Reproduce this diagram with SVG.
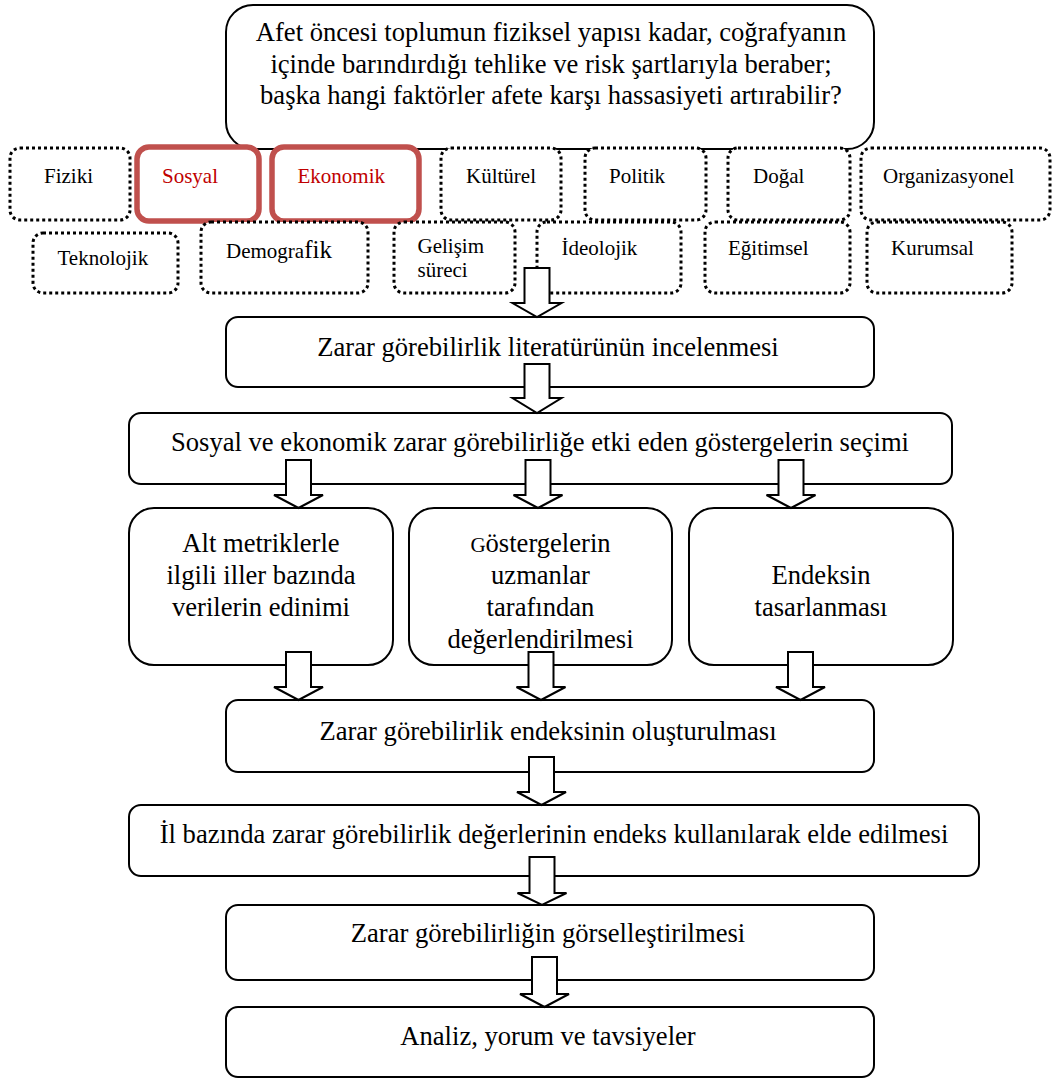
<svg xmlns="http://www.w3.org/2000/svg" width="1054" height="1082" viewBox="0 0 1054 1082">
  <style>
    text { font-family: "Liberation Serif", "Times New Roman", serif; fill: #000; }
    .flow { font-size: 26.6px; text-anchor: middle; }
    .factor { font-size: 21px; }
    .red { fill: #c00000; }
    .box { fill: #fff; stroke: #000; stroke-width: 2; }
    .dotted { fill: #fff; stroke: #000; stroke-width: 3; stroke-dasharray: 3 3; }
    .hl { fill: #fff; stroke: #c0504d; stroke-width: 5.5; }
    .arrow { fill: #fff; stroke: #000; stroke-width: 2; stroke-linejoin: miter; }
  </style>
  <rect width="1054" height="1082" fill="#fff"/>

  <!-- guiding question -->
  <g id="question">
    <rect class="box" x="226" y="5" width="648" height="144" rx="27"/>
    <text class="flow" x="551" y="41">Afet öncesi toplumun fiziksel yapısı kadar, coğrafyanın</text>
    <text class="flow" x="551" y="72.5">içinde barındırdığı tehlike ve risk şartlarıyla beraber;</text>
    <text class="flow" x="551" y="104">başka hangi faktörler afete karşı hassasiyeti artırabilir?</text>
  </g>

  <!-- factor row 1 -->
  <g id="fiziki"><rect class="dotted" x="10" y="148" width="120" height="72" rx="10"/><text class="factor" x="44" y="183">Fiziki</text></g>
  <g id="sosyal"><rect class="hl" x="137" y="147" width="122" height="74" rx="12"/><text class="factor red" x="162" y="183">Sosyal</text></g>
  <g id="ekonomik"><rect class="hl" x="272" y="147" width="147" height="74" rx="12"/><text class="factor red" x="297.5" y="183">Ekonomik</text></g>
  <g id="kulturel"><rect class="dotted" x="441" y="148" width="120" height="72" rx="10"/><text class="factor" x="466" y="183">Kültürel</text></g>
  <g id="politik"><rect class="dotted" x="585" y="148" width="121" height="72" rx="10"/><text class="factor" x="609" y="183">Politik</text></g>
  <g id="dogal"><rect class="dotted" x="728" y="148" width="122" height="72" rx="10"/><text class="factor" x="753" y="183">Doğal</text></g>
  <g id="organizasyonel"><rect class="dotted" x="861" y="148" width="189" height="72" rx="10"/><text class="factor" x="883" y="183">Organizasyonel</text></g>

  <!-- factor row 2 -->
  <g id="teknolojik"><rect class="dotted" x="33" y="233" width="145" height="60" rx="10"/><text class="factor" x="57.5" y="265">Teknolojik</text></g>
  <g id="demografik"><rect class="dotted" x="201" y="222" width="167" height="71" rx="10"/><text class="factor" x="226" y="258">Demogra<tspan font-size="25">fik</tspan></text></g>
  <g id="gelisim"><rect class="dotted" x="394" y="222" width="121" height="71" rx="10"/><text class="factor" x="417.5" y="253">Gelişim</text><text class="factor" x="417.5" y="277">süreci</text></g>
  <g id="ideolojik"><rect class="dotted" x="537" y="222" width="144" height="71" rx="10"/><text class="factor" x="561.5" y="255">İdeolojik</text></g>
  <g id="egitimsel"><rect class="dotted" x="705" y="222" width="145" height="71" rx="10"/><text class="factor" x="728" y="255">Eğitimsel</text></g>
  <g id="kurumsal"><rect class="dotted" x="867" y="222" width="145" height="71" rx="10"/><text class="factor" x="891" y="255">Kurumsal</text></g>

  <!-- process steps -->
  <g id="literatur"><rect class="box" x="226" y="317" width="648" height="70" rx="12"/><text class="flow" x="548" y="356">Zarar görebilirlik literatürünün incelenmesi</text></g>
  <g id="secim"><rect class="box" x="129" y="413" width="823" height="71" rx="12"/><text class="flow" x="540" y="451">Sosyal ve ekonomik zarar görebilirliğe etki eden göstergelerin seçimi</text></g>
  <g id="veri">
    <rect class="box" x="129" y="508" width="264" height="157" rx="25"/>
    <text class="flow" x="261" y="552">Alt metriklerle</text>
    <text class="flow" x="261" y="584">ilgili iller bazında</text>
    <text class="flow" x="261" y="616">verilerin edinimi</text>
  </g>
  <g id="uzman">
    <rect class="box" x="409" y="508" width="263" height="157" rx="25"/>
    <text class="flow" x="540.5" y="552"><tspan font-size="21">G</tspan>östergelerin</text>
    <text class="flow" x="540.5" y="584">uzmanlar</text>
    <text class="flow" x="540.5" y="616">tarafından</text>
    <text class="flow" x="540.5" y="648">değerlendirilmesi</text>
  </g>
  <g id="tasarim">
    <rect class="box" x="689" y="508" width="264" height="157" rx="25"/>
    <text class="flow" x="821" y="584">Endeksin</text>
    <text class="flow" x="821" y="616">tasarlanması</text>
  </g>
  <g id="endeks"><rect class="box" x="226" y="700" width="648" height="72" rx="12"/><text class="flow" x="548" y="740">Zarar görebilirlik endeksinin oluşturulması</text></g>
  <g id="il"><rect class="box" x="129" y="805" width="850" height="71" rx="12"/><text class="flow" x="554" y="843">İl bazında zarar görebilirlik değerlerinin endeks kullanılarak elde edilmesi</text></g>
  <g id="gorsel"><rect class="box" x="226" y="905" width="648" height="75" rx="12"/><text class="flow" x="548" y="942">Zarar görebilirliğin görselleştirilmesi</text></g>
  <g id="analiz"><rect class="box" x="226" y="1007" width="648" height="70" rx="12"/><text class="flow" x="548" y="1045">Analiz, yorum ve tavsiyeler</text></g>

  <!-- hollow block arrows: shaft 25 wide, head 49 wide, drawn over the box edges -->
  <g id="connectors">
    <path class="arrow" d="M524.5,268 H549.5 V303 H561.5 L537,317 L512.5,303 H524.5 Z"/>
    <path class="arrow" d="M524.5,364 H549.5 V398 H561.5 L537,413 L512.5,398 H524.5 Z"/>
    <path class="arrow" d="M286,460 H311 V495 H323 L298.5,508 L274,495 H286 Z"/>
    <path class="arrow" d="M525.5,460 H550.5 V495 H562.5 L538,508 L513.5,495 H525.5 Z"/>
    <path class="arrow" d="M778.5,460 H803.5 V495 H815.5 L791,508 L766.5,495 H778.5 Z"/>
    <path class="arrow" d="M286,652 H311 V687 H323 L298.5,700 L274,687 H286 Z"/>
    <path class="arrow" d="M528.5,652 H553.5 V687 H565.5 L541,700 L516.5,687 H528.5 Z"/>
    <path class="arrow" d="M788,652 H813 V687 H825 L800.5,700 L776,687 H788 Z"/>
    <path class="arrow" d="M529,757 H554 V792 H566 L541.5,805 L517,792 H529 Z"/>
    <path class="arrow" d="M529.5,857 H554.5 V893 H566.5 L542,905 L517.5,893 H529.5 Z"/>
    <path class="arrow" d="M532,957 H557 V994 H569 L544.5,1007 L520,994 H532 Z"/>
  </g>
</svg>
